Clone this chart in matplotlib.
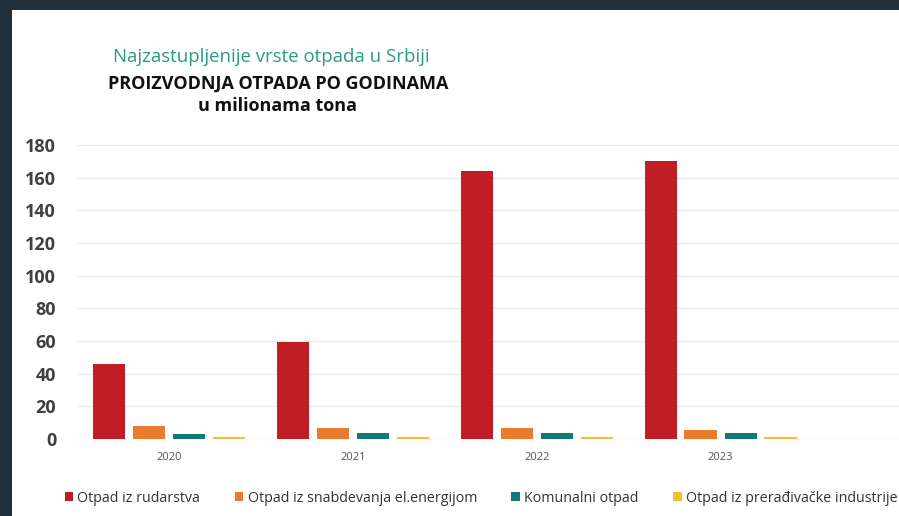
import numpy as np
import matplotlib.pyplot as plt
from matplotlib.patches import Rectangle

# Podaci (u milionima tona)
godine = ["2020", "2021", "2022", "2023"]
rudarstvo = [46, 59.5, 164, 170]
energija = [8, 7, 6.7, 5.8]
komunalni = [3, 3.5, 3.6, 3.6]
preradjivacka = [1.2, 1.2, 1.1, 1.0]

serije = [
    ("Otpad iz rudarstva", rudarstvo, "#c01d24"),
    ("Otpad iz snabdevanja el.energijom", energija, "#ea7a2c"),
    ("Komunalni otpad", komunalni, "#0f7b78"),
    ("Otpad iz prerađivačke industrije", preradjivacka, "#f3bf2a"),
]

plt.rcParams['font.family'] = ['Open Sans', 'DejaVu Sans']

fig = plt.figure(figsize=(8.99, 5.16), dpi=100, facecolor="#1f2f3c")
# bela pozadina kartice
fig.patches.append(Rectangle((12 / 899, 0), 1, 1 - 10 / 516, transform=fig.transFigure,
                             facecolor="white", edgecolor="none", zorder=-10))

ax = fig.add_axes([77 / 899, 77 / 516, 1 - 77 / 899, 294 / 516])
ax.set_facecolor("none")

x = np.arange(len(godine))
sirina = 0.175
pomaci = [-0.326, -0.109, 0.109, 0.326]
for (naziv, vrednosti, boja), dx in zip(serije, pomaci):
    ax.bar(x + dx, vrednosti, width=sirina, color=boja, label=naziv, zorder=3)

ax.set_ylim(0, 180)
ax.set_xlim(-0.5, 3.97)
ax.set_yticks(np.arange(0, 181, 20))
ax.yaxis.grid(True, color="#ececec", linewidth=1, zorder=0)
for s in ax.spines.values():
    s.set_visible(False)
ax.tick_params(axis="y", length=0, pad=15, labelsize=13, labelcolor="#404040")
for t in ax.get_yticklabels():
    t.set_fontweight("bold")
ax.set_xticks(x)
ax.set_xticklabels(godine, fontsize=8, color="#555555")
ax.tick_params(axis="x", length=0, pad=9)

fig.text(271 / 899, 1 - 57 / 516, "Najzastupljenije vrste otpada u Srbiji",
         ha="center", va="center", fontsize=13.4, color="#2a9a86")
fig.text(278 / 899, 1 - 84 / 516, "PROIZVODNJA OTPADA PO GODINAMA",
         ha="center", va="center", fontsize=13, fontweight="bold", color="#111111")
fig.text(278 / 899, 1 - 106 / 516, "u milionama tona",
         ha="center", va="center", fontsize=13, fontweight="bold", color="#111111")

leg = fig.legend(loc="center", bbox_to_anchor=(481 / 899, 1 - 498 / 516), ncol=4,
                 frameon=False, fontsize=10.3, handlelength=0.6, handleheight=0.6,
                 handletextpad=0.3, columnspacing=2.4)
for t in leg.get_texts():
    t.set_color("#333333")

fig.savefig("out.png", dpi=100, facecolor=fig.get_facecolor())
